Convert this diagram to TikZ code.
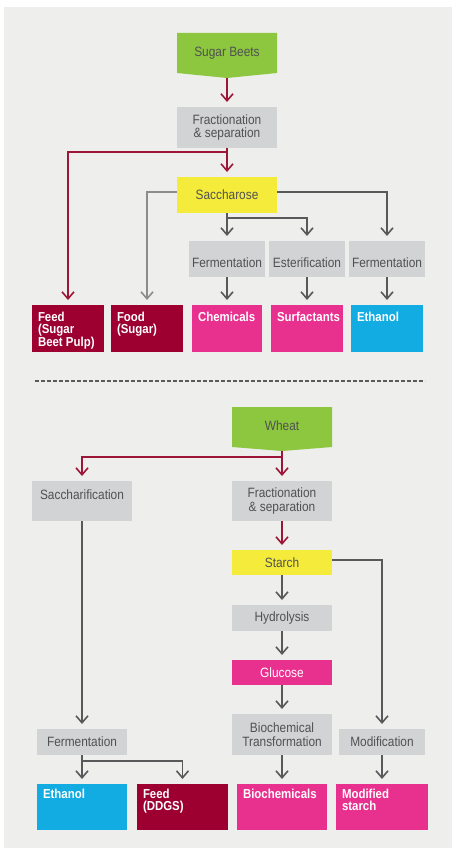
\documentclass[tikz,border=0pt]{standalone}
\usepackage{fontspec}
\setmainfont{Liberation Sans}[FakeStretch=0.88]
\usetikzlibrary{arrows.meta}

\definecolor{panel}{HTML}{EEEEEC}
\definecolor{leaf}{HTML}{8DC63F}
\definecolor{procgrey}{HTML}{D1D3D4}
\definecolor{sugar}{HTML}{F4EB3A}
\definecolor{wine}{HTML}{9D0030}
\definecolor{pink}{HTML}{E8308F}
\definecolor{sky}{HTML}{12ACE2}
\definecolor{redline}{HTML}{9E1637}
\definecolor{darkline}{HTML}{58595B}
\definecolor{lightline}{HTML}{8C8C8C}
\definecolor{txtgrey}{HTML}{505153}

% text of a product box: top-left aligned inside a box of given size
\newcommand\prodtext[4][7pt]{\parbox[c][#3][t]{#2}{\vspace*{#1}\raggedright\leftskip=6pt\relax #4}}
% label set a little below the middle of its box
\newcommand\lowtext[1]{\raisebox{-4pt}[\height][\depth]{#1}}

\begin{document}
\begin{tikzpicture}[x=1pt,y=-1pt,
  box/.style={rectangle, inner sep=0pt, outer sep=0pt, anchor=north west},
  proc/.style={box, fill=procgrey, text=txtgrey, align=center,
    font=\fontsize{13.5}{13.5}\selectfont},
  prod/.style={box, text=white, font=\bfseries\fontsize{13}{12.3}\selectfont},
  label/.style={text=txtgrey, font=\fontsize{13.5}{13.5}\selectfont},
  link/.style={line width=1.6pt, -{Straight Barb[length=7pt,width=12pt]}, shorten >=5pt},
  redlink/.style={link, draw=redline},
  greylink/.style={link, draw=darkline},
  lightlink/.style={link, draw=lightline},
]
\useasboundingbox (0,0) rectangle (452,848);
\fill[panel] (4,7) rectangle (452,848);

% ---------------- sugar beets ----------------
\fill[leaf] (177,33) -- (277,33) -- (277,73) -- (227,78) -- (177,73) -- cycle;
\node[label] (beets) at (227,53) {Sugar Beets};
\coordinate (beetstip) at (227,78);

\node[proc, minimum width=100pt, minimum height=41pt] (frac1) at (177,107) {Fractionation\\\& separation};
\node[proc, fill=sugar, minimum width=100pt, minimum height=36pt] (sacch) at (177,177) {Saccharose};

\node[proc, minimum width=76pt, minimum height=36pt] (ferm1) at (189,241) {\lowtext{Fermentation}};
\node[proc, minimum width=76pt, minimum height=36pt] (ester) at (269,241) {\lowtext{Esterification}};
\node[proc, minimum width=76pt, minimum height=36pt] (ferm3) at (349,241) {\lowtext{Fermentation}};

\node[prod, fill=wine] (feed) at (32,305) {\prodtext{72pt}{47pt}{Feed\\(Sugar\\Beet Pulp)}};
\node[prod, fill=wine] (food) at (111,305) {\prodtext{72pt}{47pt}{Food\\(Sugar)}};
\node[prod, fill=pink] (chem) at (192,305) {\prodtext{70pt}{47pt}{Chemicals}};
\node[prod, fill=pink] (surf) at (271,305) {\prodtext{72pt}{47pt}{Surfactants}};
\node[prod, fill=sky] (eth1) at (351,305) {\prodtext{72pt}{47pt}{Ethanol}};

\coordinate (j1) at (227,152);
\coordinate (j2) at (227,218);
\draw[redlink] (beetstip) -- (frac1.north);
\draw[redlink] (frac1.south) -- (sacch.north);
\draw[redlink] (frac1.south) -- (j1) -| (feed.north);
\draw[lightlink] ([yshift=3pt]sacch.west) -| (food.north);
\draw[greylink] ([yshift=3pt]sacch.east) -| (ferm3.north);
\draw[greylink] (sacch.south) -- (ferm1.north);
\draw[greylink] (sacch.south) -- (j2) -| (ester.north);
\draw[greylink] (ferm1.south) -- (chem.north);
\draw[greylink] (ester.south) -- (surf.north);
\draw[greylink] (ferm3.south) -- (eth1.north);

% ---------------- divider ----------------
\coordinate (divl) at (35,381);
\coordinate (divr) at (425,381);
\draw[darkline, line width=1.5pt, dash pattern=on 4pt off 2pt] (divl) -- (divr);

% ---------------- wheat ----------------
\fill[leaf] (232,407) -- (332,407) -- (332,447) -- (282,451) -- (232,447) -- cycle;
\node[label] (wheat) at (282,426) {Wheat};
\coordinate (wheattip) at (282,451);

\node[proc, minimum width=100pt, minimum height=40pt] (sacchar) at (32,481) {Saccharification\\\mbox{}};
\node[proc, minimum width=100pt, minimum height=40pt] (frac2) at (232,481) {Fractionation\\\& separation};
\node[proc, fill=sugar, minimum width=100pt, minimum height=25pt] (starch) at (232,550) {Starch};
\node[proc, minimum width=100pt, minimum height=26pt] (hydro) at (232,605) {Hydrolysis};
\node[proc, fill=pink, text=white, minimum width=100pt, minimum height=25pt] (glucose) at (232,660) {Glucose};
\node[proc, minimum width=100pt, minimum height=41pt] (biotrans) at (232,714) {Biochemical\\Transformation};
\node[proc, minimum width=90pt, minimum height=26pt] (ferm2) at (37,729) {Fermentation};
\node[proc, minimum width=86pt, minimum height=26pt] (modif) at (339,729) {Modification};

\node[prod, fill=sky] (eth2) at (37,784) {\prodtext[5pt]{90pt}{46pt}{Ethanol}};
\node[prod, fill=wine] (ddgs) at (137,784) {\prodtext[5pt]{91pt}{46pt}{Feed\\(DDGS)}};
\node[prod, fill=pink] (biochem) at (237,784) {\prodtext[5pt]{90pt}{46pt}{Biochemicals}};
\node[prod, fill=pink] (modstarch) at (336,784) {\prodtext[5pt]{92pt}{46pt}{Modified\\starch}};

\coordinate (j3) at (282,457);
\coordinate (j4) at (82,761);
\draw[redlink] (wheattip) -- (frac2.north);
\draw[redlink] (wheattip) -- (j3) -| (sacchar.north);
\draw[redlink] (frac2.south) -- (starch.north);
\draw[greylink] ([yshift=2.5pt]starch.east) -| (modif.north);
\draw[greylink] (starch.south) -- (hydro.north);
\draw[greylink] (hydro.south) -- (glucose.north);
\draw[greylink] (glucose.south) -- (biotrans.north);
\draw[greylink] (biotrans.south) -- (biochem.north);
\draw[greylink] (modif.south) -- (modstarch.north);
\draw[greylink] (sacchar.south) -- (ferm2.north);
\draw[greylink] (ferm2.south) -- (eth2.north);
\draw[greylink] (ferm2.south) -- (j4) -| (ddgs.north);
\end{tikzpicture}
\end{document}
